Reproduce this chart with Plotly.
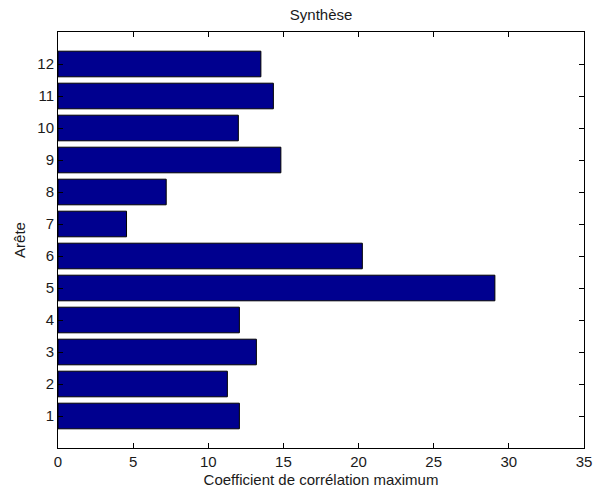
import plotly.graph_objects as go

aretes = [1, 2, 3, 4, 5, 6, 7, 8, 9, 10, 11, 12]
coefficients = [12.07, 11.27, 13.2, 12.07, 29.07, 20.25, 4.56, 7.2, 14.83, 12.0, 14.33, 13.5]
x_ticks = [0, 5, 10, 15, 20, 25, 30, 35]

fig = go.Figure()
fig.add_trace(go.Bar(
    x=coefficients, y=aretes, orientation="h", width=0.8,
    marker=dict(color="#00008F", line=dict(color="#000000", width=1)),
))

fam = "Liberation Sans, Arial, sans-serif"
txt = "#1a1a1a"
fig.update_layout(
    width=594, height=494,
    margin=dict(l=58, r=10, t=32, b=46),
    paper_bgcolor="white", plot_bgcolor="white",
    font=dict(family=fam, size=15, color=txt), showlegend=False,
    title=dict(text="Synthèse", x=0.5405, xanchor="center", y=1 - 15 / 494, yanchor="middle",
               font=dict(size=15, color=txt)),
    xaxis=dict(range=[0, 35], tickvals=x_ticks, ticks="inside", ticklen=5,
               tickfont=dict(size=15, color=txt), automargin=False,
               tickcolor="#000000", showline=True, linecolor="#000000", linewidth=1,
               mirror="ticks", showgrid=False, zeroline=False,
               title=dict(text="Coefficient de corrélation maximum", standoff=5,
                          font=dict(size=15, color=txt)),
               fixedrange=True),
    yaxis=dict(range=[0, 13], tickvals=aretes, ticks="inside", ticklen=5,
               tickfont=dict(size=15, color=txt), automargin=False,
               tickcolor="#000000", showline=True, linecolor="#000000", linewidth=1,
               mirror="ticks", showgrid=False, zeroline=False,
               title=dict(text="Arête", standoff=8, font=dict(size=15, color=txt)),
               fixedrange=True),
)
fig.write_html("out.html")
